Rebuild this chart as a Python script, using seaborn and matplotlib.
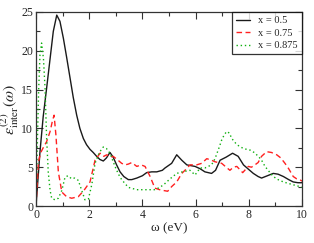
import pandas as pd
import seaborn as sns
import matplotlib
matplotlib.use("Agg")
import matplotlib.pyplot as plt
from matplotlib.ticker import MultipleLocator

# x = 0.5 (linea negra continua)
omega_05 = [0, 0.15, 0.27, 0.4, 0.53, 0.65, 0.78, 0.9, 1.03, 1.15,
            1.28, 1.4, 1.53, 1.65, 1.78, 1.9, 2.03, 2.15, 2.28, 2.4,
            2.53, 2.65, 2.78, 2.9, 3.03, 3.16, 3.3, 3.47, 3.6, 3.79,
            4.0, 4.16, 4.35, 4.54, 4.75, 4.85, 5.1, 5.29, 5.48, 5.67,
            5.98, 6.17, 6.35, 6.6, 6.75, 6.92, 7.15, 7.39, 7.6, 7.8,
            8.0, 8.17, 8.35, 8.48, 8.7, 8.92, 9.1, 9.3, 9.5, 9.67,
            9.85, 10.0]
eps_05 = [0, 7, 11.5, 15.2, 19, 22.5, 24.6, 23.8, 21.6, 19.2,
          16.5, 14.0, 11.7, 10.0, 8.7, 7.9, 7.3, 6.9, 6.4, 6.0,
          5.8, 6.2, 6.9, 6.3, 5.3, 4.4, 3.8, 3.4, 3.4, 3.6,
          3.9, 4.3, 4.4, 4.4, 4.6, 4.9, 5.5, 6.6, 5.9, 5.3,
          5.1, 4.8, 4.4, 4.2, 4.6, 5.9, 6.3, 6.8, 6.4, 5.3,
          4.7, 4.2, 3.8, 3.6, 3.9, 4.2, 4.1, 3.8, 3.4, 3.1,
          3.0, 3.0]

# x = 0.75 (linea roja discontinua)
omega_075 = [0, 0.09, 0.18, 0.27, 0.4, 0.53, 0.62, 0.68, 0.75, 0.84,
             0.97, 1.15, 1.34, 1.59, 1.8, 2.03, 2.22, 2.41, 2.55, 2.66,
             2.78, 2.9, 3.05, 3.22, 3.35, 3.47, 3.6, 3.79, 3.95, 4.1,
             4.29, 4.47, 4.65, 4.79, 4.95, 5.1, 5.29, 5.48, 5.6, 5.79,
             6.04, 6.23, 6.42, 6.6, 6.73, 6.85, 6.98, 7.15, 7.29, 7.42,
             7.55, 7.77, 7.98, 8.1, 8.23, 8.35, 8.48, 8.67, 8.85, 9.05,
             9.2, 9.36, 9.5, 9.67, 9.8, 9.92, 10.0]
eps_075 = [0, 5.7, 6.9, 7.5, 8.3, 9.6, 11.0, 11.7, 9.1, 4.4,
           1.8, 1.2, 1.0, 1.2, 2.0, 3.1, 5.9, 6.8, 6.4, 6.6,
           6.3, 6.4, 6.0, 5.5, 5.3, 5.4, 5.6, 5.1, 5.3, 5.1,
           3.8, 2.3, 2.1, 2.0, 1.9, 2.5, 3.1, 4.2, 4.6, 5.3,
           5.3, 5.5, 6.1, 5.9, 5.7, 5.6, 5.5, 5.0, 4.6, 5.0,
           5.1, 4.3, 5.1, 5.0, 5.3, 5.6, 6.4, 7.0, 6.9, 6.6,
           6.2, 5.5, 4.8, 3.8, 3.5, 3.4, 3.2]

# x = 0.875 (linea verde punteada)
omega_0875 = [0, 0.05, 0.1, 0.15, 0.21, 0.28, 0.34, 0.4, 0.46, 0.53,
              0.59, 0.71, 0.84, 0.97, 1.09, 1.2, 1.34, 1.45, 1.59, 1.7,
              1.84, 1.97, 2.1, 2.22, 2.38, 2.53, 2.65, 2.78, 2.97, 3.1,
              3.22, 3.47, 3.79, 4.16, 4.45, 4.66, 4.85, 5.04, 5.29, 5.5,
              5.79, 5.98, 6.17, 6.35, 6.6, 6.73, 6.88, 6.98, 7.08, 7.17,
              7.27, 7.36, 7.55, 7.8, 8.05, 8.2, 8.36, 8.48, 8.61, 8.75,
              8.92, 9.1, 9.3, 9.6, 9.92, 10.0]
eps_0875 = [0, 8, 15, 19.5, 21.0, 19, 15.2, 8.7, 4.4, 2.0,
            1.0, 0.8, 1.0, 2.0, 3.7, 3.9, 3.5, 3.6, 3.3, 2.2,
            0.8, 0.9, 2.8, 5.5, 6.9, 7.6, 7.4, 6.8, 5.1, 4.1,
            3.4, 2.4, 2.1, 2.1, 2.1, 2.4, 2.9, 3.5, 4.2, 4.4,
            4.6, 4.0, 4.9, 4.9, 5.3, 6.1, 7.5, 8.5, 9.2, 9.6,
            9.4, 8.7, 7.9, 7.4, 7.2, 6.9, 6.4, 5.9, 5.1, 4.5,
            3.8, 3.4, 3.1, 2.8, 2.5, 2.4]

series = [
    ("x = 0.5", omega_05, eps_05, "#1a1a1a", "-"),
    ("x = 0.75", omega_075, eps_075, "#ff2020", (0, (4, 2.5))),
    ("x = 0.875", omega_0875, eps_0875, "#10b010", (0, (1, 2))),
]

sns.set_style("ticks")
plt.rcParams["font.family"] = ["Liberation Serif", "DejaVu Serif"]
plt.rcParams["mathtext.fontset"] = "stix"

fig = plt.figure(figsize=(3.14, 2.43), dpi=100)
ax = fig.add_axes([36 / 314, 37 / 243, 266 / 314, 194 / 243])

for label, om, ep, col, ls in series:
    df = pd.DataFrame({"omega": om, "eps": ep})
    sns.lineplot(data=df, x="omega", y="eps", ax=ax, color=col,
                 linestyle=ls, linewidth=1.0, label=label, sort=False)

ax.set_xlim(0, 10)
ax.set_ylim(0, 25)
ax.xaxis.set_major_locator(MultipleLocator(2))
ax.xaxis.set_minor_locator(MultipleLocator(1))
ax.yaxis.set_major_locator(MultipleLocator(5))
ax.yaxis.set_minor_locator(MultipleLocator(2.5))
ax.tick_params(which="both", direction="in", top=True, right=True,
               labelsize=8.5, pad=2, width=0.8, color="#333333")
ax.tick_params(which="major", length=5)
ax.tick_params(which="minor", length=3)
for sp in ax.spines.values():
    sp.set_linewidth(0.9)
    sp.set_color("#333333")

ax.set_xlabel("ω (eV)", fontsize=9.5, labelpad=1)
ax.set_ylabel(r"$\varepsilon^{(2)}_{\rm inter}(\omega)$", fontsize=11.5, labelpad=0)

leg = ax.legend(loc="upper right", fontsize=7.5, frameon=True, fancybox=False,
                borderaxespad=0, handlelength=1.3, handletextpad=0.8,
                borderpad=0.4, labelspacing=0.3)
leg.get_frame().set_edgecolor("black")
leg.get_frame().set_linewidth(0.9)

plt.savefig("out.png", dpi=100)
plt.close()
